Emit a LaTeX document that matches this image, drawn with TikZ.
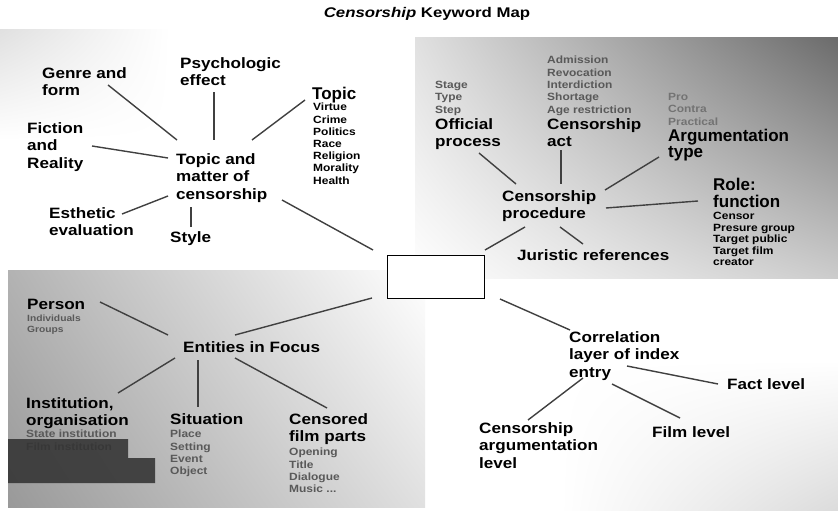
\documentclass[tikz,border=0pt]{standalone}
\usepackage{fontspec}
\setmainfont{Liberation Sans}
\newfontfamily\wide{Liberation Sans}[FakeStretch=1.14]
\newfontfamily\ttlfont{Liberation Sans}[FakeStretch=1.2]
\usetikzlibrary{calc,shadings}
\begin{document}
\begin{tikzpicture}[x=1pt,y=-1pt,
  lab/.style={anchor=north west,inner sep=0pt,align=left,font=\wide\bfseries\fontsize{15}{17.5}\selectfont},
  biglab/.style={anchor=north west,inner sep=0pt,align=left,font=\bfseries\fontsize{17}{17}\selectfont},
  sub/.style={anchor=north west,inner sep=0pt,align=left,font=\wide\bfseries\fontsize{10.5}{12.2}\selectfont},
  gsub/.style={anchor=north west,inner sep=0pt,align=left,text=black!65,font=\wide\bfseries\fontsize{10.5}{12.3}\selectfont},
  link/.style={draw=black!75,line width=1.4pt},
  centerbox/.style={draw=black,line width=0.8pt,fill=white,anchor=north west,minimum width=97pt,minimum height=43pt,inner sep=0pt}]
\useasboundingbox (0,0) rectangle (838,511);
\fill[white] (0,0) rectangle (838,511);
% background shadings
\shade[upper left=black!12, upper right=white, lower left=white, lower right=white] (0,30) rectangle (170,140);
\shade[upper left=black!12, upper right=black!58, lower left=white, lower right=black!20] (415,38) rectangle (838,278);
\shade[upper left=white, upper right=white, lower left=white, lower right=black!14] (560,360) rectangle (838,511);
\shade[upper left=black!30, upper right=white, lower left=black!40, lower right=black!12] (8,270) rectangle (425,507);

% title
\node[anchor=base,inner sep=0pt,font=\ttlfont\bfseries\fontsize{14}{14}\selectfont] (title) at (427,18) {{\itshape Censorship} Keyword Map};

% upper left cluster
\node[lab] (gf) at (42,67) {Genre and\\form};
\node[lab] (pe) at (180,57) {Psychologic\\effect};
\node[biglab] (tp) at (312,87) {Topic};
\node[sub] (tpl) at (313,103) {Virtue\\Crime\\Politics\\Race\\Religion\\Morality\\Health};
\node[lab] (fr) at (27,122) {Fiction\\and\\Reality};
\node[lab] (tm) at (176,153) {Topic and\\matter of\\censorship};
\node[lab] (ee) at (49,207) {Esthetic\\evaluation};
\node[lab] (st) at (170,231) {Style};

% central box
\node[centerbox] (box) at (387,255) {};

% upper right cluster
\node[gsub] (opl) at (435,81) {Stage\\Type\\Step};
\node[lab] (op) at (435,118) {Official\\process};
\node[gsub] (cal1) at (547,56) {Admission\\Revocation\\Interdiction\\Shortage\\Age restriction};
\node[lab] (ca) at (547,118) {Censorship\\act};
\node[gsub,text=black!55] (atl) at (668,93) {Pro\\Contra\\Practical};
\node[biglab,font=\bfseries\fontsize{17}{14.5}\selectfont] (at) at (668,129) {Argumentation\\type};
\node[lab] (cp) at (502,190) {Censorship\\procedure};
\node[biglab] (rf) at (713,178) {Role:\\function};
\node[sub,font=\wide\bfseries\fontsize{10.5}{11.5}\selectfont] (rfl) at (713,212) {Censor\\Presure group\\Target public\\Target film\\creator};
\node[lab] (jr) at (517,249) {Juristic references};

% lower right cluster
\node[lab] (cl) at (569,331) {Correlation\\layer of index\\entry};
\node[lab] (fl) at (727,378) {Fact level};
\node[lab] (fml) at (652,426) {Film level};
\node[lab] (cal) at (479,422) {Censorship\\argumentation\\level};

% lower left cluster
\node[lab] (ps) at (27,299) {Person};
\node[gsub,font=\wide\bfseries\fontsize{9}{10.5}\selectfont] (psl) at (27,315) {Individuals\\Groups};
\node[lab] (ef) at (183,341) {Entities in Focus};
\node[lab] (io) at (26,397) {Institution,\\organisation};
\node[gsub] (iol) at (26,430) {State institution\\Film institution};
\node[lab] (si) at (170,413) {Situation};
\node[gsub] (sil) at (170,430) {Place\\Setting\\Event\\Object};
\node[lab] (cf) at (289,413) {Censored\\film parts};
\node[gsub] (cfl) at (289,448) {Opening\\Title\\Dialogue\\Music ...};

\fill[black!80,opacity=0.88] (8,439) -- (128,439) -- (128,458) -- (155,458) -- (155,483) -- (8,483) -- cycle;

% connectors
\draw[link] ($(gf.north west)+(66,18)$) -- ($(tm.north west)+(1,-13)$);
\draw[link] ($(pe.north west)+(34,35)$) -- ($(tm.north west)+(38,-13)$);
\draw[link] ($(tp.north west)+(-7,13)$) -- ($(tm.north west)+(76,-13)$);
\draw[link] ($(fr.north west)+(65,24)$) -- ($(tm.north west)+(-8,5)$);
\draw[link] ($(ee.north west)+(73,7)$) -- ($(tm.north west)+(-8,43)$);
\draw[link] ($(st.north west)+(21,-4)$) -- ($(tm.north west)+(15,54)$);
\draw[link] ($(tm.north west)+(106,47)$) -- ($(box.north west)+(-14,-5)$);

\draw[link] ($(op.north west)+(44,35)$) -- ($(cp.north west)+(14,-6)$);
\draw[link] ($(ca.north west)+(14,32)$) -- ($(cp.north west)+(59,-6)$);
\draw[link] ($(at.north west)+(-9,28)$) -- ($(cp.north west)+(103,0)$);
\draw[link] ($(rf.north west)+(-15,23)$) -- ($(cp.north west)+(104,18)$);
\draw[link] ($(cp.north west)+(23,37)$) -- ($(box.north west)+(98,-5)$);
\draw[link] ($(cp.north west)+(58,37)$) -- ($(jr.north west)+(66,-5)$);

\draw[link] ($(box.north west)+(113,44)$) -- ($(cl.north west)+(1,-1)$);
\draw[link] ($(cl.north west)+(58,35)$) -- ($(fl.north west)+(-9,6)$);
\draw[link] ($(cl.north west)+(43,53)$) -- ($(fml.north west)+(28,-8)$);
\draw[link] ($(cl.north west)+(14,47)$) -- ($(cal.north west)+(49,-2)$);

\draw[link] ($(box.north west)+(-15,43)$) -- ($(ef.north west)+(52,-6)$);
\draw[link] ($(ps.north west)+(73,3)$) -- ($(ef.north west)+(-15,-6)$);
\draw[link] ($(ef.north west)+(-8,17)$) -- ($(io.north west)+(92,-4)$);
\draw[link] ($(ef.north west)+(15,19)$) -- ($(si.north west)+(28,-6)$);
\draw[link] ($(ef.north west)+(52,17)$) -- ($(cf.north west)+(38,-5)$);
\end{tikzpicture}
\end{document}
